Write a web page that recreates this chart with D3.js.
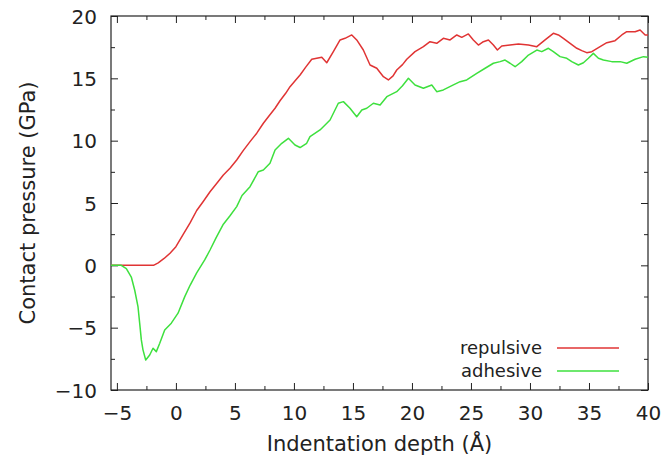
<!DOCTYPE html>
<html>
<head>
<meta charset="utf-8">
<script src="https://cdn.jsdelivr.net/npm/d3@7"></script>
<style>
  html, body { margin: 0; padding: 0; background: #fff; }
  svg text { font-family: "DejaVu Sans", Verdana, sans-serif; fill: #222; }
</style>
</head>
<body>
<svg id="chart" width="668" height="464"></svg>
<script>
// Contact pressure vs indentation depth for two tip–surface interactions
const repulsiveDepth = [-5.5, -1.9, -1.5, -1.0, -0.5, 0.0, 0.63, 1.2, 1.76, 2.3, 2.89, 3.4, 4.02, 4.6, 5.15, 5.7, 6.28, 6.85, 7.41, 7.9, 8.4, 8.82, 9.3, 9.67, 10.1, 10.52, 11.0, 11.51, 11.93, 12.36, 12.78, 13.34, 13.91, 14.33, 14.9, 15.32, 15.88, 16.45, 17.02, 17.58, 18.0, 18.4, 18.71, 19.2, 19.56, 20.26, 20.97, 21.53, 22.1, 22.66, 23.23, 23.8, 24.22, 24.78, 25.2, 25.63, 26.05, 26.48, 26.9, 27.24, 27.61, 28.31, 29.02, 29.87, 30.58, 31.28, 31.98, 32.41, 32.83, 33.4, 33.97, 34.39, 34.81, 35.24, 35.94, 36.51, 37.21, 37.78, 38.2, 38.91, 39.33, 39.76, 40.0];
const repulsivePressure = [0, 0, 0.2, 0.55, 0.97, 1.5, 2.5, 3.4, 4.4, 5.1, 5.9, 6.5, 7.25, 7.8, 8.45, 9.2, 9.92, 10.6, 11.4, 12.0, 12.6, 13.2, 13.8, 14.33, 14.8, 15.27, 15.9, 16.53, 16.61, 16.69, 16.25, 17.14, 18.08, 18.21, 18.48, 18.08, 17.27, 16.07, 15.81, 15.13, 14.87, 15.2, 15.67, 16.1, 16.53, 17.14, 17.54, 17.94, 17.81, 18.21, 18.08, 18.48, 18.29, 18.56, 18.08, 17.67, 17.94, 18.08, 17.67, 17.27, 17.59, 17.67, 17.75, 17.67, 17.54, 18.08, 18.61, 18.48, 18.21, 17.81, 17.41, 17.22, 17.06, 17.14, 17.54, 17.86, 18.02, 18.48, 18.74, 18.74, 18.88, 18.48, 18.48];

const adhesiveDepth = [-5.5, -4.63, -4.2, -3.78, -3.49, -3.21, -3.07, -2.93, -2.79, -2.56, -2.22, -1.94, -1.66, -1.37, -0.95, -0.39, 0.18, 0.75, 1.2, 1.76, 2.44, 2.89, 3.4, 4.02, 4.6, 5.15, 5.6, 6.28, 6.98, 7.41, 7.97, 8.4, 8.97, 9.53, 10.09, 10.52, 11.08, 11.36, 12.21, 12.49, 13.06, 13.76, 14.19, 14.75, 15.32, 15.75, 16.17, 16.73, 17.3, 17.87, 18.71, 19.2, 19.7, 20.26, 20.97, 21.68, 22.1, 22.66, 23.51, 24.08, 24.64, 25.49, 26.2, 26.9, 27.47, 27.89, 28.31, 28.74, 29.3, 29.87, 30.58, 31.0, 31.56, 31.98, 32.55, 33.12, 33.54, 34.1, 34.53, 34.95, 35.37, 35.8, 36.22, 36.93, 37.64, 38.2, 38.91, 39.62, 40.0];
const adhesivePressure = [0, 0, -0.27, -0.94, -2.0, -3.34, -4.64, -5.98, -6.78, -7.59, -7.19, -6.65, -6.92, -6.25, -5.18, -4.64, -3.84, -2.51, -1.6, -0.6, 0.43, 1.23, 2.2, 3.3, 4.0, 4.71, 5.6, 6.31, 7.51, 7.65, 8.19, 9.25, 9.79, 10.19, 9.65, 9.45, 9.79, 10.32, 10.86, 11.12, 11.66, 13.0, 13.13, 12.6, 11.92, 12.46, 12.6, 13.0, 12.86, 13.53, 13.93, 14.4, 15.0, 14.47, 14.2, 14.47, 13.93, 14.07, 14.47, 14.73, 14.87, 15.4, 15.81, 16.21, 16.34, 16.47, 16.21, 15.93, 16.34, 16.87, 17.27, 17.14, 17.41, 17.14, 16.74, 16.61, 16.34, 16.07, 16.25, 16.61, 17.0, 16.61, 16.47, 16.34, 16.34, 16.21, 16.53, 16.74, 16.69];

const xTicks = [-5, 0, 5, 10, 15, 20, 25, 30, 35, 40];
const yTicks = [-10, -5, 0, 5, 10, 15, 20];
const xMinorTicks = [-2.5, 2.5, 7.5, 12.5, 17.5, 22.5, 27.5, 32.5, 37.5];
const yMinorTicks = [-7.5, -2.5, 2.5, 7.5, 12.5, 17.5];

const seriesNames = ["repulsive", "adhesive"];
const seriesColors = ["#e03434", "#3ee03e"];

const svg = d3.select("#chart");
const plotLeft = 111, plotRight = 648, plotTop = 16, plotBottom = 390;
const fontFamily = "DejaVu Sans, Verdana, sans-serif";

const x = d3.scaleLinear().domain([-5.5, 40]).range([plotLeft, plotRight]);
const y = d3.scaleLinear().domain([-10, 20]).range([plotBottom, plotTop]);
const fmt = d3.format("d");

const axisColor = "#222";
const majorLen = 7, minorLen = 4;

// Ticks on all four sides, pointing inward
function ticks(axisGen, transform, vals, len) {
  svg.append("g")
    .attr("transform", transform)
    .call(axisGen.tickValues(vals).tickSize(-len).tickFormat(""))
    .call(g => g.select(".domain").remove())
    .call(g => g.selectAll("line").attr("stroke", axisColor).attr("stroke-width", 1));
}
ticks(d3.axisBottom(x), `translate(0,${plotBottom})`, xTicks, majorLen);
ticks(d3.axisBottom(x), `translate(0,${plotBottom})`, xMinorTicks, minorLen);
ticks(d3.axisTop(x), `translate(0,${plotTop})`, xTicks, majorLen);
ticks(d3.axisTop(x), `translate(0,${plotTop})`, xMinorTicks, minorLen);
ticks(d3.axisLeft(y), `translate(${plotLeft},0)`, yTicks, majorLen);
ticks(d3.axisLeft(y), `translate(${plotLeft},0)`, yMinorTicks, minorLen);
ticks(d3.axisRight(y), `translate(${plotRight},0)`, yTicks, majorLen);
ticks(d3.axisRight(y), `translate(${plotRight},0)`, yMinorTicks, minorLen);

// Tick labels
const xLab = svg.append("g").attr("transform", `translate(0,${plotBottom})`)
  .call(d3.axisBottom(x).tickValues(xTicks).tickSize(0).tickPadding(0).tickFormat(fmt));
xLab.select(".domain").remove();
xLab.selectAll("text").attr("font-size", 20).attr("dy", null).attr("y", 30)
  .attr("font-family", fontFamily).attr("fill", "#222");

const yLab = svg.append("g").attr("transform", `translate(${plotLeft},0)`)
  .call(d3.axisLeft(y).tickValues(yTicks).tickSize(0).tickPadding(0).tickFormat(fmt));
yLab.select(".domain").remove();
yLab.selectAll("text").attr("font-size", 20).attr("x", -14).attr("dy", "0.36em")
  .attr("font-family", fontFamily).attr("fill", "#222");

// Frame
svg.append("rect")
  .attr("x", plotLeft).attr("y", plotTop)
  .attr("width", plotRight - plotLeft).attr("height", plotBottom - plotTop)
  .attr("fill", "none").attr("stroke", axisColor).attr("stroke-width", 1.2);

// Curves
const line = d3.line().x(d => x(d[0])).y(d => y(d[1]));
const series = [
  d3.zip(repulsiveDepth, repulsivePressure),
  d3.zip(adhesiveDepth, adhesivePressure)
];
series.forEach((pts, i) => {
  svg.append("path")
    .datum(pts)
    .attr("d", line)
    .attr("fill", "none")
    .attr("stroke", seriesColors[i])
    .attr("stroke-width", 1.5)
    .attr("stroke-linejoin", "round");
});

// Legend
const legend = svg.append("g");
seriesNames.forEach((name, i) => {
  const ly = 348 + i * 23;
  legend.append("text")
    .attr("x", 542).attr("y", ly).attr("dy", "0.33em")
    .attr("text-anchor", "end").attr("font-size", 18)
    .text(name);
  legend.append("line")
    .attr("x1", 557).attr("x2", 619)
    .attr("y1", ly).attr("y2", ly)
    .attr("stroke", seriesColors[i]).attr("stroke-width", 1.5);
});

// Axis titles
svg.append("text")
  .attr("x", (plotLeft + plotRight) / 2).attr("y", 451)
  .attr("text-anchor", "middle").attr("font-size", 21)
  .text("Indentation depth (Å)");

svg.append("text")
  .attr("transform", `translate(35,${(plotTop + plotBottom) / 2}) rotate(-90)`)
  .attr("text-anchor", "middle").attr("font-size", 21)
  .text("Contact pressure (GPa)");
</script>
</body>
</html>
